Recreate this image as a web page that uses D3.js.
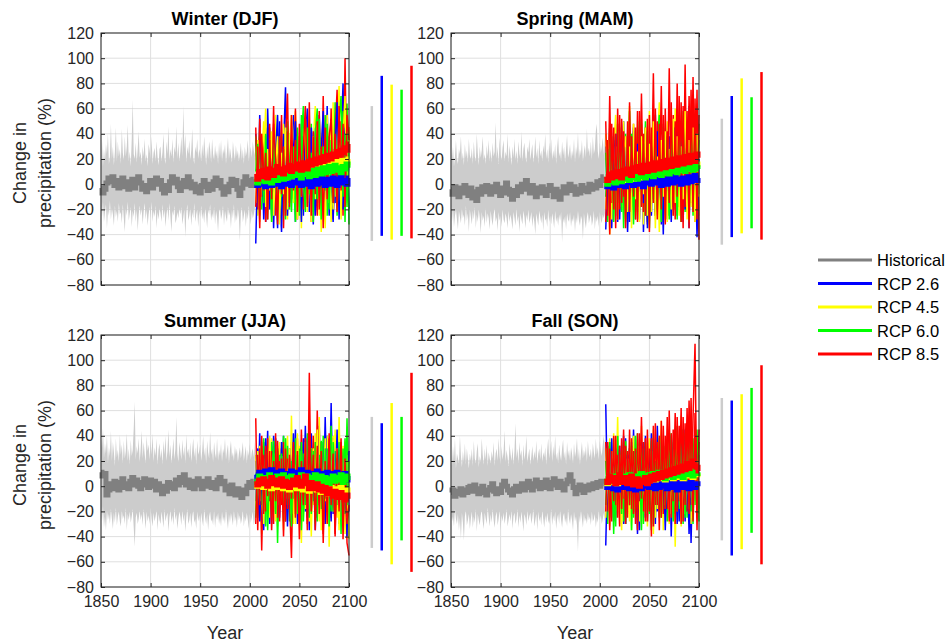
<!DOCTYPE html>
<html>
<head>
<meta charset="utf-8">
<script src="https://cdn.jsdelivr.net/npm/d3@7"></script>
<style>
  body { margin: 0; background: #fff; }
  svg { display: block; font-family: "Liberation Sans", Arial, Helvetica, sans-serif; }
</style>
</head>
<body>
<svg id="chart"></svg>
<script>
// ---------- DATA (% change in precipitation) ----------
const bandYears = d3.range(1850, 2006);      // 1850..2005, yearly spread of historical runs
const histYears = d3.range(1850, 2005, 2);   // 1850..2004, historical mean
const rcpYears = d3.range(2006, 2101, 2);    // 2006..2100
const xTicks = [1850, 1900, 1950, 2000, 2050, 2100];
const yTicks = [-80, -60, -40, -20, 0, 20, 40, 60, 80, 100, 120];
const seriesNames = ["Historical", "RCP 2.6", "RCP 4.5", "RCP 6.0", "RCP 8.5"];
const seriesColors = ["#808080", "#0000ff", "#ffff00", "#00ff00", "#ff0000"];
const barColors = ["#cccccc", "#0000ff", "#ffff00", "#00ff00", "#ff0000"];
const barYears = [2123, 2133, 2143, 2153, 2163];  // where the range bars sit right of the axes

// Winter (DJF)
const winterHistMean = [-3,-7,-4,1,5,2,6,-1,3,-3, 1,5,-2,2,-4,0,4,-3,2,6, 1,-4,-1,-6,-2,3,-3,1,5,0, 3,-4,-7,-1,-5,2,6,1,4,-2, -5,1,3,-2,6,2,-3,0,-6,-2, -7,-1,3,-2,-5,0,-4,2,5,-1, 3,-3,-8,-2,-6,0,4,-1,3,-4, -9,-3,2,6,0,3,-1,4];
const winterHistHigh = [20,35,14,28,18,32,24,40,16,22, 48,20,30,15,26,45,18,34,22,28,
  16,44,25,19,38,22,30,47,18,26, 14,36,67,24,20,33,17,28,42,21,
  26,15,30,22,36,18,24,14,32,27, 20,38,16,25,29,18,34,22,15,28,
  30,18,26,40,21,16,34,24,46,19, 28,22,36,17,30,25,46,20,33,18,
  26,38,22,62,28,40,17,30,24,35, 19,27,44,21,16,30,25,36,20,28,
  24,18,32,22,38,26,15,30,20,34, 28,17,36,24,19,31,22,27,16,33,
  21,35,18,28,24,32,16,26,37,20, 29,23,17,34,25,19,31,22,27,18,
  24,33,19,28,16,30,22,26,35,18, 25,30,21,34,27,23];
const winterHistLow = [-18,-26,-14,-30,-22,-16,-35,-20,-25,-13, -28,-19,-24,-33,-17,-26,-21,-30,-15,-24,
  -22,-31,-16,-27,-38,-19,-25,-14,-29,-23, -18,-34,-21,-26,-15,-30,-20,-37,-24,-17,
  -25,-19,-32,-22,-15,-28,-20,-33,-24,-18, -27,-14,-30,-21,-26,-17,-35,-22,-28,-19,
  -23,-30,-16,-27,-20,-34,-24,-18,-29,-15, -26,-38,-21,-25,-17,-31,-28,-22,-27,-19,
  -24,-18,-32,-26,-20,-42,-23,-16,-29,-25, -19,-33,-22,-27,-15,-30,-24,-20,-34,-21,
  -26,-17,-28,-22,-31,-19,-25,-35,-20,-24, -16,-29,-23,-27,-18,-32,-21,-26,-38,-22,
  -19,-28,-24,-17,-33,-21,-26,-30,-18,-25, -22,-35,-20,-27,-16,-31,-24,-29,-19,-26,
  -45,-23,-18,-30,-25,-20,-34,-22,-28,-17, -26,-32,-21,-27,-24,-19];
const winterR26Mean = [3,-1,2,5,0,-2,4,1,-1,3, 0,4,1,-2,3,5,0,2,-1,4, 1,5,2,-1,3,0,4,1,-2,3, 5,0,2,6,1,-1,4,2,0,5, 2,-1,4,6,1,3,0,5];
const winterR45Mean = [5,2,7,4,8,3,6,9,5,8, 4,9,6,10,7,5,11,8,6,12, 9,7,12,10,8,13,11,9,14,10, 12,15,11,13,16,12,14,11,17,13, 15,18,14,16,19,15,17,20];
const winterR60Mean = [4,1,5,3,7,2,6,4,1,5, 8,3,6,9,4,7,5,10,6,8, 11,7,9,5,10,8,12,6,9,11, 7,12,10,8,13,9,11,14,10,12, 15,11,13,9,14,12,16,13];
const winterR85Mean = [8,4,10,6,11,8,5,12,9,7, 11,14,9,12,8,13,11,15,10,14, 12,16,13,11,17,14,12,18,15,19, 16,20,17,21,18,22,19,23,20,24, 22,26,23,27,25,29,27,32];
const winterR26A = [40,-20,55,-10,35,-30,60,5,-25,45, 10,-35,50,-15,30,77,-20,40,-5,55, -30,25,-10,48,-25,35,60,-15,20,-32, 45,-5,55,-20,30,-10,62,-25,40,5, -15,50,-28,35,80,-10,25,-20];
const winterR26B = [-47,20,-10,38,-28,15,45,-20,30,-35, 25,55,-5,-38,40,10,-25,35,-12,28, 50,-18,22,-30,38,-8,30,-22,45,12, -25,35,-15,28,58,-20,20,-8,40,-30, 25,65,-12,30,-20,45,-5,18];
const winterR45A = [30,-25,45,-8,25,60,-15,38,-30,20, 55,-10,35,-22,48,5,-28,40,-12,30, 58,-20,28,-35,42,10,-18,50,-25,35, 62,-8,30,-38,45,-15,55,20,-30,65, -10,38,78,-20,45,-5,60,30];
const winterR45B = [-15,35,-30,20,50,-18,28,-5,42,-25, 15,38,-32,25,-8,45,-20,32,55,-15, 22,-28,40,-10,30,52,-22,18,-30,38, -12,45,-25,28,8,-35,40,-15,50,-20, 30,-8,58,-28,35,70,-15,45];
const winterR60A = [38,-10,42,-20,30,15,-28,45,-5,35, -18,40,22,-25,38,-12,50,-20,30,8, -30,45,-15,35,62,-22,28,-10,48,-30, 40,60,-18,32,-8,55,-25,38,12,-20, 65,-15,42,-10,58,-30,64,-32];
const winterR60B = [10,32,-25,28,-15,40,-8,22,-30,38, 5,-20,35,-10,28,-28,42,15,-22,30, -12,38,-25,55,0,-18,45,-8,25,-22, 35,-12,52,-28,30,-5,48,-20,35,-15, 28,-25,50,70,-10,40,-18,25];
const winterR85A = [45,-20,52,-10,38,-30,30,48,-15,62, -25,40,-8,55,-35,35,72,-18,45,-5, 60,-28,38,10,-20,50,-12,65,-30,42, 8,-25,58,-15,70,-20,45,-8,60,-28, 38,75,-12,50,-25,100,-10,45];
const winterR85B = [-18,30,-35,40,-5,25,-28,35,-12,48, 20,-32,38,-8,30,-25,42,-15,55,-5, 35,-22,48,-10,28,62,-18,40,-25,38, -8,50,-20,30,-35,45,-12,38,52,-15, 40,-22,62,-5,48,-18,55,35];
const winterRanges = [[-45,62],[-41,86],[-44,79],[-41,75],[-43,94]];

// Spring (MAM)
const springHistMean = [-4,-8,-2,-6,-10,-3,-7,-1,-5,-9, -3,-11,-6,-13,-4,-8,-2,-6,-1,-5, -8,-2,-6,0,-4,-9,-3,-7,1,-4, -8,-12,-5,-9,-2,-6,0,-4,3,-3, -7,-1,-5,-10,-3,-7,-2,-6,-9,-4, -1,-5,-10,-4,-8,-12,-6,-2,-7,-3, 0,-5,-2,-8,-4,-7,-1,-5,-3,-6, 0,-4,-1,-3,2,-1,3,6];
const springHistHigh = [26,18,30,14,22,35,20,16,28,24, 38,19,25,15,32,21,27,17,36,23,
  20,29,16,34,22,18,40,25,15,30, 21,27,38,19,24,16,31,22,35,18,
  28,17,33,22,26,49,20,30,16,37, 24,19,29,35,18,26,22,40,17,31,
  23,15,30,21,36,19,27,16,34,24, 20,42,18,28,33,22,17,30,25,36,
  19,26,32,17,24,38,21,29,16,35, 22,27,18,31,25,40,20,28,17,33,
  24,36,19,27,21,32,16,29,38,22, 26,18,34,23,30,17,28,39,21,25,
  32,19,27,22,36,17,30,24,41,20, 28,23,35,18,26,31,21,44,25,29,
  22,34,19,38,24,28,42,48,26,20, 33,25,30,37,23,40];
const springHistLow = [-22,-30,-18,-34,-25,-20,-28,-36,-21,-26, -31,-19,-27,-24,-33,-17,-29,-23,-38,-20,
  -26,-32,-21,-28,-18,-35,-24,-30,-20,-27, -39,-22,-29,-25,-34,-19,-31,-23,-27,-36,
  -21,-28,-33,-24,-19,-30,-26,-37,-22,-29, -25,-34,-20,-28,-31,-23,-27,-35,-21,-30,
  -24,-29,-36,-22,-27,-33,-19,-30,-25,-38, -23,-28,-32,-21,-26,-35,-24,-29,-20,-31,
  -27,-22,-34,-25,-30,-40,-23,-28,-33,-21, -26,-31,-24,-37,-22,-29,-27,-34,-20,-30,
  -25,-32,-23,-28,-35,-21,-30,-26,-33,-24, -29,-22,-46,-27,-31,-25,-36,-23,-28,-30,
  -22,-34,-27,-30,-24,-38,-26,-31,-21,-29, -33,-25,-28,-44,-23,-30,-35,-26,-22,-31,
  -27,-24,-33,-29,-21,-36,-26,-30,-25,-34, -22,-28,-31,-24,-27,-23];
const springR26Mean = [1,-2,2,0,-3,3,1,-1,4,0, -2,3,1,4,-1,2,0,5,1,-2, 3,1,4,0,2,5,1,3,-1,4, 2,0,5,3,1,6,2,4,0,5, 3,1,6,2,4,7,3,5];
const springR45Mean = [4,1,5,3,7,2,6,4,8,3, 7,5,9,6,4,10,7,5,11,8, 6,12,9,7,13,10,8,12,9,14, 11,9,14,12,10,15,12,13,16,11, 14,12,17,13,15,12,16,14];
const springR60Mean = [3,0,4,2,5,1,6,3,2,7, 4,6,3,8,5,7,4,9,6,8, 5,10,7,9,6,11,8,10,7,12, 9,11,8,13,10,12,9,14,11,13, 10,15,12,14,11,16,13,12];
const springR85Mean = [6,3,8,5,9,6,10,7,5,11, 8,12,9,7,13,10,14,11,9,15, 12,10,16,13,11,17,14,12,18,15, 13,19,16,14,20,17,15,21,18,16, 22,19,17,23,20,18,24,21];
const springR26A = [30,-20,45,-35,20,-10,38,-28,25,50, -15,35,-30,18,42,-22,30,-5,48,-38, 22,-12,40,-25,35,55,-18,28,-32,45, 10,-28,38,-15,50,-20,60,-10,35,-30, 45,-22,62,-12,38,-25,55,-8];
const springR26B = [-36,15,-22,32,-8,40,-30,22,-15,35, 28,-38,20,-20,45,-10,32,-28,25,-15, 40,-35,18,-8,30,-22,42,-12,25,-40, 35,-18,28,-30,22,45,-25,38,-15,48, -20,30,-35,42,-10,28,-42,20];
const springR45A = [40,-15,48,-28,30,55,-22,38,-10,50, -30,25,62,-18,35,-25,45,-8,52,-32, 28,-15,58,-22,40,-35,30,65,-12,42, -28,50,-18,35,-25,60,-10,45,-30,55, -15,48,-22,40,68,-18,50,-25];
const springR45B = [-20,35,-40,22,-12,30,-28,42,-18,25, 38,-22,30,-35,48,-12,26,-30,38,-8, 45,-25,32,-15,50,-28,22,-38,35,-10, 42,-30,28,-20,52,-15,38,-25,30,-12, 58,-28,35,-18,45,-30,40,-10];
const springR60A = [25,-30,42,-12,35,-25,48,-8,30,-35, 40,-18,58,-10,32,-28,45,-22,38,-5, 50,-30,28,-15,42,-25,35,55,-20,48, -12,38,-28,52,-18,45,-10,40,-30,58, -22,50,-15,46,-25,55,-12,48];
const springR60B = [-10,28,-25,38,-30,22,-15,45,-22,30, -28,35,-12,40,-32,25,-18,50,-8,32, -25,42,-35,30,-12,38,-20,28,-30,45, -15,35,-25,48,-10,30,-28,42,-18,50, -12,38,-30,45,-20,52,-15,35];
const springR85A = [50,-25,70,-15,45,-35,60,-20,52,-10, 38,-30,65,-18,48,-28,58,-12,72,-22, 45,-32,55,-8,88,-25,50,-15,78,-30, 60,-20,92,-12,55,-28,80,-18,65,-35, 95,-22,70,-15,85,-30,75,-44];
const springR85B = [-30,35,-40,48,-20,40,-28,55,-15,42, -35,50,-22,38,-10,45,-30,58,-18,40, -25,52,-38,45,-15,60,-28,48,-20,55, -32,42,-15,65,-25,50,-10,70,-30,62, -18,58,-35,75,-22,68,-28,55];
const springRanges = [[-48,52],[-42,70],[-39,84],[-35,69],[-44,89]];

// Summer (JJA)
const summerHistMean = [11,8,10,-7,-3,2,-2,4,0,-3, 3,6,-1,2,-2,4,7,1,5,0, -2,3,6,1,-1,5,0,4,-3,2, -3,-6,0,-4,3,-1,2,-2,5,1, 7,3,9,1,5,-1,4,-2,3,6, 1,-2,4,0,6,2,-1,3,-2,5, 7,2,4,-3,0,-6,1,-4,-7,-2, -5,-9,-3,-6,0,3,-1,4];
const summerHistHigh = [38,30,46,22,34,26,40,18,31,24, 44,20,35,27,16,38,23,29,19,41,
  25,33,18,36,22,28,42,20,30,17, 37,24,29,46,67,21,32,26,38,19,
  30,44,22,35,26,18,40,28,33,21, 36,25,42,19,31,24,38,17,29,34,
  22,30,17,36,25,40,20,28,45,23, 33,18,27,38,21,30,55,26,19,35,
  28,21,37,24,32,18,41,26,30,22, 35,19,29,38,23,31,17,36,25,28,
  33,20,28,40,24,31,18,36,27,22, 43,25,30,19,35,26,22,38,20,29,
  24,34,19,30,26,38,21,28,33,18, 29,36,23,27,20,32,25,30,19,26,
  31,22,28,35,20,26,32,18,29,24, 34,21,27,30,23,36];
const summerHistLow = [-20,-28,-16,-33,-24,-35,-19,-27,-22,-30, -18,-26,-34,-21,-29,-17,-31,-24,-20,-28,
  -32,-19,-26,-23,-30,-17,-35,-22,-27,-20, -29,-24,-18,-33,-48,-25,-21,-30,-26,-19,
  -27,-22,-31,-18,-25,-34,-20,-28,-23,-30, -17,-26,-32,-21,-28,-24,-19,-35,-22,-27,
  -30,-20,-26,-33,-18,-28,-24,-21,-36,-25, -19,-29,-23,-31,-17,-27,-22,-34,-26,-20,
  -24,-31,-19,-28,-22,-36,-25,-18,-30,-27, -21,-33,-24,-19,-29,-26,-34,-20,-28,-23,
  -29,-21,-27,-32,-18,-25,-30,-22,-35,-24, -20,-28,-26,-31,-19,-33,-23,-27,-21,-30,
  -25,-32,-20,-28,-24,-30,-18,-27,-34,-22, -29,-21,-26,-31,-19,-28,-24,-33,-20,-27,
  -23,-30,-26,-19,-32,-24,-28,-21,-27,-34, -22,-29,-25,-20,-31,-26];
const summerR26Mean = [9,6,11,8,5,12,9,7,13,10, 6,11,8,12,7,10,5,9,12,8, 11,7,10,13,8,6,11,9,5,10, 8,12,7,10,6,9,11,7,10,5, 8,11,6,9,7,10,5,8];
const summerR45Mean = [3,0,4,1,-1,3,0,2,-2,2, 4,-1,1,3,-2,0,2,-3,1,-1, 2,-2,0,3,-3,1,-1,-4,0,-2, 1,-3,-1,-5,0,-3,-2,-6,-1,-4, -2,-6,-3,-1,-5,-7,-3,-5];
const summerR60Mean = [6,3,8,5,7,2,6,9,4,7, 5,8,3,6,9,5,7,4,8,6, 3,7,5,9,4,6,8,3,7,5, 9,4,6,8,3,7,5,2,6,8, 4,7,5,9,3,6,8,5];
const summerR85Mean = [4,1,5,2,6,3,0,4,7,2, 5,1,3,6,0,4,2,-1,3,5, 1,7,3,0,4,8,2,-2,3,1, -2,2,-3,0,-4,-1,-6,-2,-5,-8, -4,-7,-9,-5,-8,-11,-7,-10];
const summerR26A = [20,-15,42,-25,35,-10,44,-30,28,-5, 38,-22,30,-12,40,-28,22,-18,35,-8, 45,-30,25,-15,38,-20,30,-35,42,-10, 28,-25,48,-12,35,-30,40,-18,66,-22, 32,-10,45,-28,25,-15,38,-20];
const summerR26B = [-12,30,-28,20,-35,38,-10,25,-30,40, -18,28,-25,35,-8,22,-32,30,-15,42, -22,18,-28,35,-12,48,-25,30,-18,26, -35,40,-10,28,-22,55,-15,30,-28,38, -12,45,-30,22,-18,35,-40,28];
const summerR45A = [25,-20,32,-38,18,-10,30,-25,38,-15, 22,-32,35,-12,28,-22,40,-18,56,-30, 20,-10,32,-45,25,-18,38,-28,30,-15, 42,-22,55,-35,28,-12,40,-48,30,-20, 45,-25,55,-15,32,-38,25,-42];
const summerR45B = [-20,28,-12,35,-30,22,-18,40,-8,26, -28,32,-15,24,-35,38,-10,30,-22,18, -30,42,-12,28,-25,35,-18,22,-40,30, -10,45,-28,20,-15,38,-30,25,-12,40, -22,30,-35,28,-18,36,-25,20];
const summerR60A = [10,-25,30,-15,38,-32,22,-8,35,-20, 28,-45,25,-12,40,-18,32,-28,20,-10, 38,-22,30,-35,26,-15,42,-25,30,-12, 35,-28,25,-18,40,-10,30,-32,48,-20, 28,-15,35,-38,30,-22,54,-10];
const summerR60B = [-25,18,-10,32,-20,28,-35,15,-12,36, -22,30,-8,26,-28,38,-15,22,-32,30, -10,25,-20,35,-28,20,-12,32,-22,28, -30,18,-15,36,-25,30,-10,28,-20,35, -28,22,-12,30,-25,38,-15,20];
const summerR85A = [54,-35,30,-51,25,-20,38,-12,28,-30, 42,-25,20,-15,35,-28,22,-10,-57,30, -22,38,-30,45,-15,28,-35,90,-20,40, -28,60,-12,35,-38,30,-18,42,-25,35, -40,28,-15,38,-30,25,-45,-55];
const summerR85B = [-30,25,-15,40,-22,32,-8,28,-35,20, -12,36,-28,22,-40,30,-18,25,-10,35, -25,28,-42,20,-15,38,-30,45,-20,25, -35,32,-22,28,-45,20,-30,38,-15,26, -38,30,-20,35,-42,22,-30,-15];
const summerRanges = [[-49,55],[-51,50],[-62,66],[-43,55],[-68,90]];

// Fall (SON)
const fallHistMean = [-5,-3,-8,-4,-6,-2,-7,-3,-5,-1, 0,-4,1,-3,-6,-2,0,-5,-7,-3, -1,2,-4,-6,-2,-5,1,4,0,-3, -5,-7,-2,0,-4,-1,2,-3,1,4, -1,-3,2,5,0,-2,3,-1,5,1, -2,3,6,1,-1,4,0,-3,2,5, 9,4,-1,-6,-3,1,-2,-5,0,-3, 1,-2,2,-1,3,0,4,2];
const fallHistHigh = [25,16,32,20,38,14,26,22,18,40, 24,15,28,19,34,17,30,22,14,26,
  20,30,16,36,22,18,28,34,15,24, 19,38,25,17,30,21,33,16,27,22,
  18,28,22,35,16,26,30,20,38,24, 17,32,21,27,44,19,29,23,16,34,
  26,20,31,17,28,50,22,30,18,35, 24,29,16,33,21,27,40,19,25,30,
  17,24,32,20,28,22,36,18,26,30, 21,34,19,27,23,31,17,29,38,22,
  28,36,19,32,24,40,21,27,18,33, 25,20,30,37,22,28,17,35,24,29,
  20,31,26,18,34,23,28,38,21,30, 17,27,35,22,29,24,32,19,36,26,
  23,30,20,34,27,22,38,25,31,21, 36,28,24,33,40,30];
const fallHistLow = [-20,-28,-24,-32,-18,-26,-30,-22,-35,-25, -42,-21,-29,-43,-24,-19,-31,-27,-22,-34,
  -26,-20,-33,-24,-29,-18,-36,-22,-27,-31, -23,-19,-28,-34,-21,-26,-30,-17,-25,-32,
  -22,-29,-18,-27,-33,-24,-20,-31,-26,-19, -35,-23,-28,-21,-30,-25,-18,-32,-27,-22,
  -28,-19,-34,-24,-21,-30,-26,-18,-33,-23, -29,-20,-27,-36,-22,-25,-31,-19,-28,-24,
  -21,-30,-25,-18,-32,-27,-22,-35,-20,-28, -24,-31,-19,-26,-33,-23,-29,-21,-27,-30,
  -25,-18,-31,-23,-28,-20,-34,-26,-22,-30, -19,-27,-33,-24,-21,-29,-25,-32,-18,-26,
  -30,-22,-27,-35,-20,-28,-24,-31,-52,-23, -29,-19,-26,-33,-22,-28,-25,-30,-21,-27,
  -24,-31,-20,-28,-26,-22,-33,-25,-29,-19, -27,-23,-30,-26,-21,-28];
const fallR26Mean = [2,-1,3,0,-2,2,-3,1,4,-1, 1,3,-2,2,0,-3,3,1,-2,2, 0,4,-1,1,3,-2,2,-1,1,4, 0,-2,3,1,-1,2,-3,1,3,-1, 2,0,-2,3,1,-1,2,0];
const fallR45Mean = [5,2,6,3,7,4,2,6,4,7, 3,6,8,4,5,7,3,6,9,5, 7,4,8,6,9,5,7,10,6,8, 5,9,7,10,6,8,11,7,9,6, 10,8,12,9,7,11,9,10];
const fallR60Mean = [6,3,7,4,8,5,3,7,5,8, 4,7,9,5,6,8,4,7,10,6, 8,5,9,7,10,6,8,11,7,9, 6,10,8,11,7,9,12,8,10,7, 11,9,13,10,8,12,10,11];
const fallR85Mean = [6,3,8,4,7,2,6,9,3,5, 7,2,5,8,1,4,6,0,3,5, 7,2,4,8,5,9,6,10,7,11, 8,12,9,13,10,14,11,15,12,16, 13,18,14,17,20,16,15,12];
const fallR26A = [65,-20,35,-10,28,-25,40,-15,22,-30, 38,-8,30,-22,45,-12,25,-35,32,-5, 40,-28,20,-15,35,-30,48,-10,28,-22, 30,-18,38,-40,25,-12,42,-28,30,-15, 45,-20,35,-45,28,-10,32,-18];
const fallR26B = [-47,22,-15,38,-28,20,-10,32,-22,40, -30,25,-18,35,-12,28,-38,20,-8,35, -25,30,-15,42,-32,22,-20,35,-10,28, -35,18,-25,40,-15,30,-30,22,-12,45, -28,25,-38,30,-20,36,-15,25];
const fallR45A = [30,-15,38,-25,42,-10,55,-30,28,-18, 35,-22,25,-35,40,-12,30,-28,48,-15, 22,-32,38,-10,45,-25,30,-18,52,-35, 28,-12,40,-22,35,-48,30,-15,56,-25, 38,-20,45,-30,32,-12,40,-22];
const fallR45B = [-25,20,-32,28,-12,35,-20,25,-35,30, -10,22,-28,38,-18,26,-15,32,-30,20, -22,35,-12,28,-38,25,-18,40,-25,30, -15,36,-30,22,-20,45,-10,28,-32,38, -22,30,-15,35,-28,25,-18,30];
const fallR60A = [20,-30,35,-18,28,-32,40,-12,25,-28, 36,-15,30,-35,22,-20,42,-10,28,-30, 35,-18,25,-35,38,-12,30,-25,40,-20, 32,-28,45,-15,30,-22,48,-18,35,-30, 42,-25,50,-20,38,-15,45,-28];
const fallR60B = [-15,32,-25,22,-38,30,-10,28,-22,35, -30,20,-15,32,-25,40,-18,25,-35,30, -12,28,-22,36,-30,20,-15,38,-25,32, -18,35,-10,42,-28,30,-20,38,-12,45, -25,32,-18,40,-30,28,-22,35];
const fallR85A = [35,-20,30,-28,40,-15,25,-32,38,-10, 32,-25,45,-18,28,-30,42,-12,55,-20, 38,-28,30,-40,48,-15,35,-35,52,-22, 40,-18,60,-25,45,-30,55,-12,62,-28, 50,-20,68,-15,55,113,-25,35];
const fallR85B = [-20,35,-35,28,-12,40,-25,32,-18,45, -30,28,-15,38,-22,30,-35,42,-10,35, -28,45,-20,38,-32,50,-15,40,-25,48, -18,55,-28,42,-12,58,-20,48,-30,55, -15,62,-22,70,-28,58,-35,45];
const fallRanges = [[-43,70],[-55,68],[-50,73],[-37,78],[-62,96]];

// GLOBAL DECLARATIONS
let svg;
let width = 946;
let height = 644;
let plotW = 248;
let plotH = 252;
let colLefts = [101, 451];
let rowTops = [33, 335];
let fontStack = "'Liberation Sans', Arial, Helvetica, sans-serif";
let panels;

setupPage();
panels.forEach(drawPanel);
drawLegend();

function setupPage(){
  svg = d3.select("#chart")
    .attr("width", width)
    .attr("height", height);

  panels = [
    { title: "Winter (DJF)", col: 0, row: 0,
      mean: winterHistMean, high: winterHistHigh, low: winterHistLow,
      members: [[winterR26A, winterR26B], [winterR45A, winterR45B], [winterR60A, winterR60B], [winterR85A, winterR85B]],
      means: [winterR26Mean, winterR45Mean, winterR60Mean, winterR85Mean],
      ranges: winterRanges },
    { title: "Spring (MAM)", col: 1, row: 0,
      mean: springHistMean, high: springHistHigh, low: springHistLow,
      members: [[springR26A, springR26B], [springR45A, springR45B], [springR60A, springR60B], [springR85A, springR85B]],
      means: [springR26Mean, springR45Mean, springR60Mean, springR85Mean],
      ranges: springRanges },
    { title: "Summer (JJA)", col: 0, row: 1,
      mean: summerHistMean, high: summerHistHigh, low: summerHistLow,
      members: [[summerR26A, summerR26B], [summerR45A, summerR45B], [summerR60A, summerR60B], [summerR85A, summerR85B]],
      means: [summerR26Mean, summerR45Mean, summerR60Mean, summerR85Mean],
      ranges: summerRanges },
    { title: "Fall (SON)", col: 1, row: 1,
      mean: fallHistMean, high: fallHistHigh, low: fallHistLow,
      members: [[fallR26A, fallR26B], [fallR45A, fallR45B], [fallR60A, fallR60B], [fallR85A, fallR85B]],
      means: [fallR26Mean, fallR45Mean, fallR60Mean, fallR85Mean],
      ranges: fallRanges }
  ];
}

function drawPanel(p){
  let g = svg.append("g")
    .attr("transform", `translate(${colLefts[p.col]},${rowTops[p.row]})`);

  let x = d3.scaleLinear().domain([1850, 2100]).range([0, plotW]);
  let y = d3.scaleLinear().domain([-80, 120]).range([plotH, 0]);

  // grid
  g.selectAll(".gx").data(xTicks).enter().append("line")
    .attr("x1", d => x(d)).attr("x2", d => x(d))
    .attr("y1", 0).attr("y2", plotH)
    .attr("stroke", "#dfdfdf").attr("stroke-width", 1);
  g.selectAll(".gy").data(yTicks).enter().append("line")
    .attr("x1", 0).attr("x2", plotW)
    .attr("y1", d => y(d)).attr("y2", d => y(d))
    .attr("stroke", "#dfdfdf").attr("stroke-width", 1);

  // historical spread (yearly envelope) and mean
  let area = d3.area()
    .x((d, i) => x(bandYears[i]))
    .y0((d, i) => y(p.low[i]))
    .y1(d => y(d));
  g.append("path").datum(p.high)
    .attr("d", area)
    .attr("fill", "#cccccc");

  let histLine = d3.line().curve(d3.curveStep).x((d, i) => x(histYears[i])).y(d => y(d));
  g.append("path").datum(p.mean)
    .attr("d", histLine)
    .attr("fill", "none")
    .attr("stroke", "#808080")
    .attr("stroke-width", 5);

  // scenario members, interleaved so colours mix
  let rcpLine = d3.line().x((d, i) => x(rcpYears[i])).y(d => y(d));
  for (let m = 0; m < 2; m++){
    for (let s = 0; s < 4; s++){
      g.append("path").datum(p.members[s][m])
        .attr("d", rcpLine)
        .attr("fill", "none")
        .attr("stroke", seriesColors[s + 1])
        .attr("stroke-width", 1.5);
    }
  }
  // scenario means
  let meanLine = d3.line().curve(d3.curveStep).x((d, i) => x(rcpYears[i])).y(d => y(d));
  p.means.forEach(function(mean, s){
    g.append("path").datum(mean)
      .attr("d", meanLine)
      .attr("fill", "none")
      .attr("stroke", seriesColors[s + 1])
      .attr("stroke-width", 5);
  });

  // range bars to the right of the axes
  g.selectAll(".range-bar").data(p.ranges).enter().append("line")
    .attr("class", "range-bar")
    .attr("x1", (d, i) => x(barYears[i])).attr("x2", (d, i) => x(barYears[i]))
    .attr("y1", d => y(d[0])).attr("y2", d => y(d[1]))
    .attr("stroke", (d, i) => barColors[i])
    .attr("stroke-width", 2.5);

  // axes (ticks inside, box on)
  let showX = p.row === 1;
  let axL = g.append("g").call(d3.axisLeft(y).tickValues(yTicks).tickSize(-4).tickPadding(7));
  let axR = g.append("g").attr("transform", `translate(${plotW},0)`)
    .call(d3.axisRight(y).tickValues(yTicks).tickSize(-4).tickFormat(""));
  let axB = g.append("g").attr("transform", `translate(0,${plotH})`)
    .call(d3.axisBottom(x).tickValues(xTicks).tickSize(-4).tickPadding(9).tickFormat(showX ? d3.format("d") : ""));
  let axT = g.append("g")
    .call(d3.axisTop(x).tickValues(xTicks).tickSize(-4).tickFormat(""));
  [axL, axR, axB, axT].forEach(function(ax){
    ax.select(".domain").remove();
    ax.selectAll("line").attr("stroke", "#262626");
    ax.selectAll("text").attr("fill", "#262626").style("font-size", "16px")
      .style("font-family", fontStack);
  });

  g.append("rect")
    .attr("width", plotW).attr("height", plotH)
    .attr("fill", "none").attr("stroke", "#262626").attr("stroke-width", 1);

  g.append("text")
    .attr("x", plotW / 2).attr("y", -8)
    .attr("text-anchor", "middle")
    .style("font-size", "18px").style("font-weight", "bold")
    .attr("fill", "#000")
    .text(p.title);

  if (p.col === 0){
    let lab = g.append("text")
      .attr("transform", `translate(-75,${plotH / 2 + 4}) rotate(-90)`)
      .attr("text-anchor", "middle")
      .style("font-size", "18px")
      .attr("fill", "#262626");
    lab.append("tspan").attr("x", 0).attr("dy", 0).text("Change in");
    lab.append("tspan").attr("x", 0).attr("dy", 25).text("precipitation (%)");
  }
  if (showX){
    g.append("text")
      .attr("x", plotW / 2).attr("y", plotH + 52)
      .attr("text-anchor", "middle")
      .style("font-size", "18px")
      .attr("fill", "#262626")
      .text("Year");
  }
}

function drawLegend(){
  let lg = svg.append("g").attr("transform", "translate(818,260)");
  let rows = lg.selectAll(".legend-row").data(seriesNames).enter().append("g")
    .attr("class", "legend-row")
    .attr("transform", (d, i) => `translate(0,${i * 23.5})`);
  rows.append("line")
    .attr("x1", 0).attr("x2", 54)
    .attr("stroke", (d, i) => seriesColors[i])
    .attr("stroke-width", 3);
  rows.append("text")
    .attr("x", 59).attr("y", 6)
    .style("font-size", "16.5px")
    .attr("fill", "#000")
    .text(d => d);
}
</script>
</body>
</html>
